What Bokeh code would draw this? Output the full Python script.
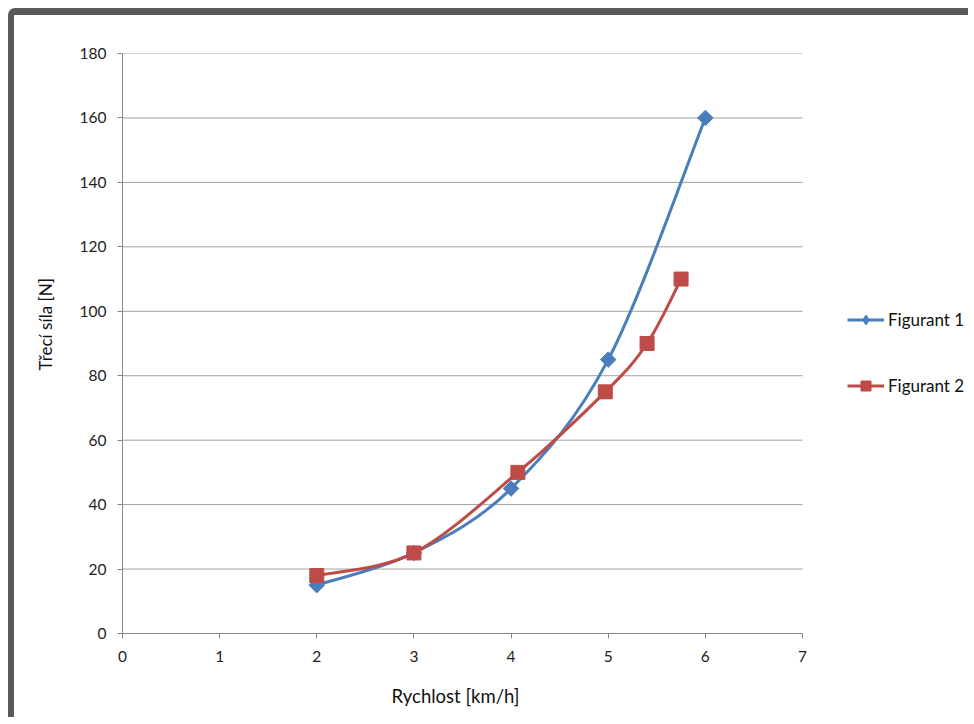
import numpy as np
from bokeh.plotting import figure
from bokeh.models import Range1d, FixedTicker, Legend, LegendItem, Title, LinearAxis
from bokeh.embed import file_html
from bokeh.resources import INLINE

# ---- data ----
f1_x = [2, 3, 4, 5, 6]
f1_y = [15, 25, 45, 85, 160]
f2_x = [2, 3, 4.07, 4.97, 5.4, 5.75]
f2_y = [18, 25, 50, 75, 90, 110]
series_names = ["Figurant 1", "Figurant 2"]
x_ticks = [0, 1, 2, 3, 4, 5, 6, 7]
y_ticks = [0, 20, 40, 60, 80, 100, 120, 140, 160, 180]
x_title = "Rychlost [km/h]"
y_title = "Třecí síla [N]"

BLUE = "#4A7EBB"
RED = "#BE4B48"
FONT = "Lato"
GRID = "#a0a0a0"
AXIS = "#868686"

X_MIN, X_MAX = x_ticks[0], x_ticks[-1]
# plot area spans 680 px for the axis range; the frame continues 172 px to the
# right (legend area) without axis or grid
X_VIEW_END = X_MAX * 852 / 680


def smooth_segments(xs, ys):
    """Bezier control points of an Excel-like (Catmull-Rom) smoothed line."""
    x = np.asarray(xs, float)
    y = np.asarray(ys, float)
    n = len(x)
    xp = np.concatenate([[x[0]], x, [x[-1]]])
    yp = np.concatenate([[y[0]], y, [y[-1]]])
    seg = dict(x0=[], y0=[], x1=[], y1=[], cx0=[], cy0=[], cx1=[], cy1=[])
    for i in range(n - 1):
        j = i + 1
        seg["x0"].append(x[i]); seg["y0"].append(y[i])
        seg["x1"].append(x[i + 1]); seg["y1"].append(y[i + 1])
        seg["cx0"].append(x[i] + (xp[j + 1] - xp[j - 1]) / 6)
        seg["cy0"].append(y[i] + (yp[j + 1] - yp[j - 1]) / 6)
        seg["cx1"].append(x[i + 1] - (xp[j + 2] - xp[j]) / 6)
        seg["cy1"].append(y[i + 1] - (yp[j + 2] - yp[j]) / 6)
    return seg


p = figure(
    width=960, height=709,
    output_backend="svg", toolbar_location=None,
    x_range=Range1d(X_MIN, X_VIEW_END), y_range=Range1d(y_ticks[0], y_ticks[-1]),
    min_border_left=108, min_border_right=0,
    min_border_top=38, min_border_bottom=91,
    styles={
        "margin-left": "8px",
        "margin-top": "8px",
        "border-top": "7px solid #595959",
        "border-left": "6px solid #595959",
        "border-top-left-radius": "7px",
    },
)
p.outline_line_color = None
p.background_fill_color = "white"
p.border_fill_color = "white"
p.xgrid.grid_line_color = None
p.ygrid.grid_line_color = None

# horizontal gridlines, limited to the axis range
p.segment(x0=[X_MIN] * len(y_ticks), x1=[X_MAX] * len(y_ticks),
          y0=y_ticks, y1=y_ticks, line_color=GRID, line_width=1)

# axes
p.xaxis.ticker = FixedTicker(ticks=x_ticks)
p.yaxis.ticker = FixedTicker(ticks=y_ticks)
p.xaxis.bounds = (X_MIN, X_MAX)
for ax in (p.xaxis[0], p.yaxis[0]):
    ax.axis_line_color = AXIS
    ax.major_tick_line_color = AXIS
    ax.major_tick_out = 5
    ax.major_tick_in = 0
    ax.minor_tick_line_color = None
    ax.major_label_text_font = FONT
    ax.major_label_text_font_size = "15.5px"
    ax.major_label_text_color = "#222222"
    ax.major_label_standoff = 11
    ax.axis_label = None
p.xaxis.major_label_standoff = 12

# y-axis title as a side title (positioned like the reference)
yt = Title(text=y_title, align="left", offset=263, vertical_align="middle",
           standoff=39, text_font=FONT, text_font_size="17px",
           text_font_style="normal", text_color="#111111")
p.add_layout(yt, "left")

# invisible spacer band below the x axis, then the x-axis title
spacer = LinearAxis(
    ticker=FixedTicker(ticks=[X_MIN]), axis_line_color=None,
    major_tick_line_color=None, minor_tick_line_color=None,
    major_tick_out=9, major_tick_in=0, minor_tick_out=0, minor_tick_in=0,
    major_label_overrides={X_MIN: ""}, major_label_standoff=0,
    major_label_text_font_size="1px", major_label_text_alpha=0,
    axis_label=None,
)
p.add_layout(spacer, "below")
xt = Title(text=x_title, align="left", offset=269, vertical_align="top",
           standoff=22, text_font=FONT, text_font_size="18.5px",
           text_font_style="normal", text_color="#111111")
p.add_layout(xt, "below")

# series 1
s1 = smooth_segments(f1_x, f1_y)
l1 = p.bezier(line_color=BLUE, line_width=3, **s1)
m1 = p.scatter(f1_x, f1_y, marker="square", angle=np.pi / 4, size=11,
               fill_color=BLUE, line_color=BLUE)
# series 2
s2 = smooth_segments(f2_x, f2_y)
l2 = p.bezier(line_color=RED, line_width=3, **s2)
m2 = p.scatter(f2_x, f2_y, marker="square", size=14,
               fill_color=RED, line_color=RED)

# legend-only marker look for series 1 (diamond); hidden in the plot itself
k1 = p.scatter(f1_x, f1_y, marker="diamond", size=14,
               fill_color=BLUE, line_color=BLUE, visible=False)

legend = Legend(
    items=[LegendItem(label=series_names[0], renderers=[l1, k1]),
           LegendItem(label=series_names[1], renderers=[l2, m2])],
    location=(725, 235),
    border_line_color=None, background_fill_alpha=0,
    inactive_fill_alpha=0,
    padding=0, margin=0, spacing=41,
    glyph_width=37, glyph_height=25, label_height=25,
    label_standoff=4,
    label_text_font=FONT, label_text_font_size="17px",
    label_text_color="#111111",
)
p.add_layout(legend, "center")

open("out.html", "w").write(file_html(p, INLINE))
